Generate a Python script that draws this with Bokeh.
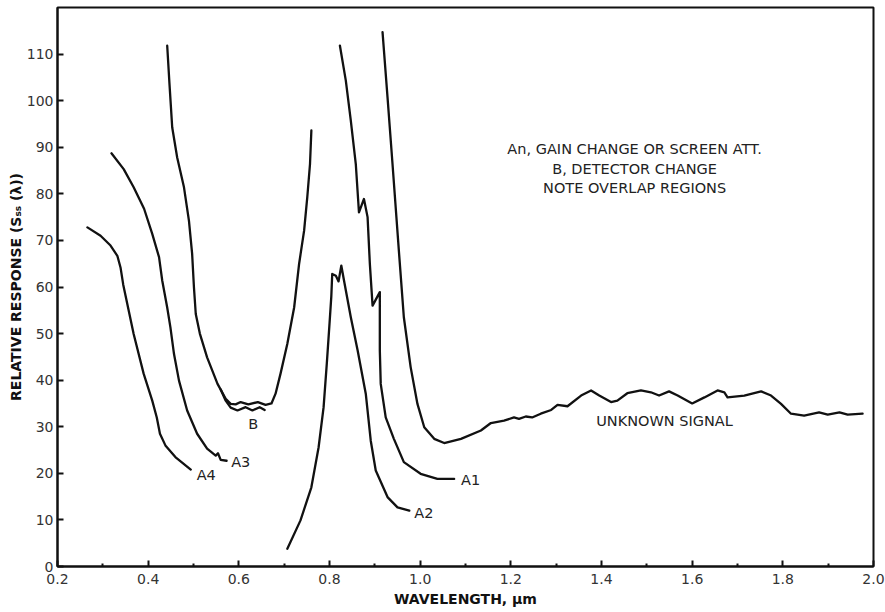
from bokeh.plotting import figure
from bokeh.models import Range1d, FixedTicker, ColumnDataSource
from bokeh.embed import file_html
from bokeh.resources import INLINE
from bokeh.core.properties import value

# ---------------- data ----------------
a4_x = [0.266, 0.295, 0.317, 0.332, 0.339, 0.345, 0.368, 0.390, 0.409, 0.419, 0.426, 0.438, 0.460, 0.494]
a4_y = [72.8, 71.0, 68.9, 66.7, 64.2, 60.5, 49.9, 41.4, 35.6, 32.0, 28.5, 26.0, 23.5, 20.8]

a3_x = [0.319, 0.346, 0.368, 0.391, 0.409, 0.424, 0.431, 0.442, 0.449, 0.457, 0.468, 0.486, 0.508, 0.530,
        0.549, 0.554, 0.560, 0.573]
a3_y = [88.7, 85.3, 81.4, 76.8, 71.4, 66.4, 61.4, 55.6, 51.4, 45.6, 39.9, 33.5, 28.5, 25.3,
        23.8, 24.3, 22.9, 22.7]

b_up_x = [0.442, 0.447, 0.453, 0.464, 0.479, 0.490, 0.497, 0.501, 0.505, 0.514, 0.530, 0.553, 0.571,
          0.582, 0.593, 0.604, 0.621, 0.642, 0.659, 0.672, 0.681, 0.692, 0.707, 0.722, 0.733, 0.744,
          0.751, 0.757, 0.760]
b_up_y = [111.8, 103.6, 94.3, 87.8, 81.4, 74.2, 67.1, 59.9, 54.2, 50.0, 44.9, 39.2, 36.0,
          34.9, 34.8, 35.3, 34.8, 35.3, 34.7, 35.0, 37.1, 41.4, 47.8, 55.6, 65.0, 72.1,
          79.3, 86.4, 93.6]

b_lo_x = [0.560, 0.571, 0.582, 0.597, 0.615, 0.630, 0.646, 0.657]
b_lo_y = [38.0, 35.6, 34.1, 33.5, 34.2, 33.5, 34.2, 33.6]

a2_x = [0.707, 0.736, 0.760, 0.776, 0.787, 0.794, 0.800, 0.804, 0.806, 0.814, 0.820, 0.826, 0.832,
        0.847, 0.862, 0.880, 0.891, 0.902, 0.928, 0.950, 0.976]
a2_y = [3.8, 9.9, 17.0, 25.6, 34.2, 43.5, 52.1, 58.0, 62.8, 62.4, 61.2, 64.6, 61.4,
        53.5, 46.4, 37.1, 27.0, 20.6, 14.9, 12.7, 12.0]

a1_x = [0.823, 0.836, 0.847, 0.858, 0.865, 0.876, 0.884, 0.889, 0.895, 0.911, 0.911, 0.913, 0.924,
        0.942, 0.964, 1.001, 1.038, 1.075]
a1_y = [111.8, 104.3, 95.7, 86.4, 76.0, 78.9, 75.0, 65.0, 56.0, 58.9, 46.4, 39.2, 32.0,
        27.4, 22.4, 19.9, 18.8, 18.8]

us_x = [0.917, 0.928, 0.939, 0.953, 0.964, 0.979, 0.994, 1.009, 1.031, 1.053, 1.090, 1.134, 1.156,
        1.185, 1.207, 1.218, 1.233, 1.247, 1.266, 1.289, 1.303, 1.325, 1.355, 1.377, 1.395, 1.421,
        1.435, 1.457, 1.487, 1.509, 1.527, 1.549, 1.568, 1.600, 1.627, 1.656, 1.671, 1.678, 1.715,
        1.752, 1.774, 1.796, 1.818, 1.847, 1.880, 1.899, 1.925, 1.943, 1.976]
us_y = [114.7, 100.7, 86.4, 67.8, 53.5, 42.8, 34.9, 29.9, 27.4, 26.5, 27.4, 29.2, 30.8,
        31.3, 32.0, 31.7, 32.2, 32.0, 32.8, 33.6, 34.7, 34.4, 36.7, 37.8, 36.7, 35.3,
        35.6, 37.2, 37.8, 37.4, 36.7, 37.6, 36.7, 35.0, 36.3, 37.8, 37.4, 36.3, 36.7,
        37.6, 36.7, 34.9, 32.8, 32.4, 33.1, 32.6, 33.1, 32.6, 32.8]

curve_labels = ["A4", "A3", "B", "A2", "A1", "UNKNOWN SIGNAL"]
curve_label_x = [0.507, 0.583, 0.632, 0.987, 1.090, 1.539]
curve_label_y = [19.7, 22.4, 30.5, 11.5, 18.5, 31.3]
curve_label_align = ["left", "left", "center", "left", "left", "center"]

note_lines = ["An, GAIN CHANGE OR SCREEN ATT.", "B, DETECTOR CHANGE", "NOTE OVERLAP REGIONS"]
note_x = [1.473, 1.473, 1.473]
note_y = [89.6, 85.4, 81.3]

x_ticks = [0.2, 0.4, 0.6, 0.8, 1.0, 1.2, 1.4, 1.6, 1.8, 2.0]
x_tick_labels = ["0.2", "0.4", "0.6", "0.8", "1.0", "1.2", "1.4", "1.6", "1.8", "2.0"]
x_minor_ticks = [0.3, 0.5, 0.7, 0.9, 1.1, 1.3, 1.5, 1.7, 1.9]
y_ticks = [0, 10, 20, 30, 40, 50, 60, 70, 80, 90, 100, 110]

# ---------------- figure ----------------
FONT = "DejaVu Sans"
p = figure(width=885, height=612, output_backend="svg", toolbar_location=None,
           x_range=Range1d(0.2, 2.0), y_range=Range1d(0, 120),
           min_border_left=57, min_border_right=12, min_border_top=7, min_border_bottom=46)
p.grid.visible = False
p.outline_line_color = "#111111"
p.outline_line_width = 2
p.background_fill_color = "white"
p.border_fill_color = "white"

line_kw = dict(line_color="#111111", line_width=2.3, line_join="round", line_cap="round")
for xs, ys in [(a4_x, a4_y), (a3_x, a3_y), (b_up_x, b_up_y), (b_lo_x, b_lo_y),
               (a2_x, a2_y), (a1_x, a1_y), (us_x, us_y)]:
    p.line(xs, ys, **line_kw)

lab_src = ColumnDataSource(dict(x=curve_label_x, y=curve_label_y, t=curve_labels, a=curve_label_align))
p.text(x="x", y="y", text="t", text_align="a", source=lab_src, text_baseline="middle",
       text_font=value(FONT), text_font_size="14.5px", text_color="#222222")

note_src = ColumnDataSource(dict(x=note_x, y=note_y, t=note_lines))
p.text(x="x", y="y", text="t", source=note_src, text_align="center", text_baseline="middle",
       text_font=value(FONT), text_font_size="14.5px", text_color="#222222")

# axes
xa = p.xaxis[0]
xa.ticker = FixedTicker(ticks=x_ticks, minor_ticks=x_minor_ticks)
xa.major_label_overrides = {t: l for t, l in zip(x_ticks, x_tick_labels)}
xa.axis_label = "WAVELENGTH, \u03bcm"
ya = p.yaxis[0]
ya.ticker = FixedTicker(ticks=y_ticks)
ya.axis_label = "RELATIVE RESPONSE (S\u209b\u209b (\u03bb))"
for ax in (xa, ya):
    ax.axis_line_color = "#111111"
    ax.axis_line_width = 2
    ax.major_tick_line_color = "#111111"
    ax.major_tick_line_width = 2
    ax.major_tick_in = 6
    ax.major_tick_out = 0
    ax.minor_tick_line_color = "#111111"
    ax.minor_tick_line_width = 2
    ax.minor_tick_in = 3
    ax.minor_tick_out = 0
    ax.major_label_text_font = FONT
    ax.major_label_text_font_size = "14px"
    ax.major_label_text_color = "#333333"
    ax.axis_label_text_font = FONT
    ax.axis_label_text_font_size = "14px"
    ax.axis_label_text_font_style = "bold"
    ax.axis_label_text_color = "#111111"
ya.minor_tick_line_color = None
xa.major_label_standoff = 7
ya.major_label_standoff = 4
xa.axis_label_standoff = 4
ya.axis_label_standoff = 0

open("out.html", "w").write(file_html(p, INLINE))
